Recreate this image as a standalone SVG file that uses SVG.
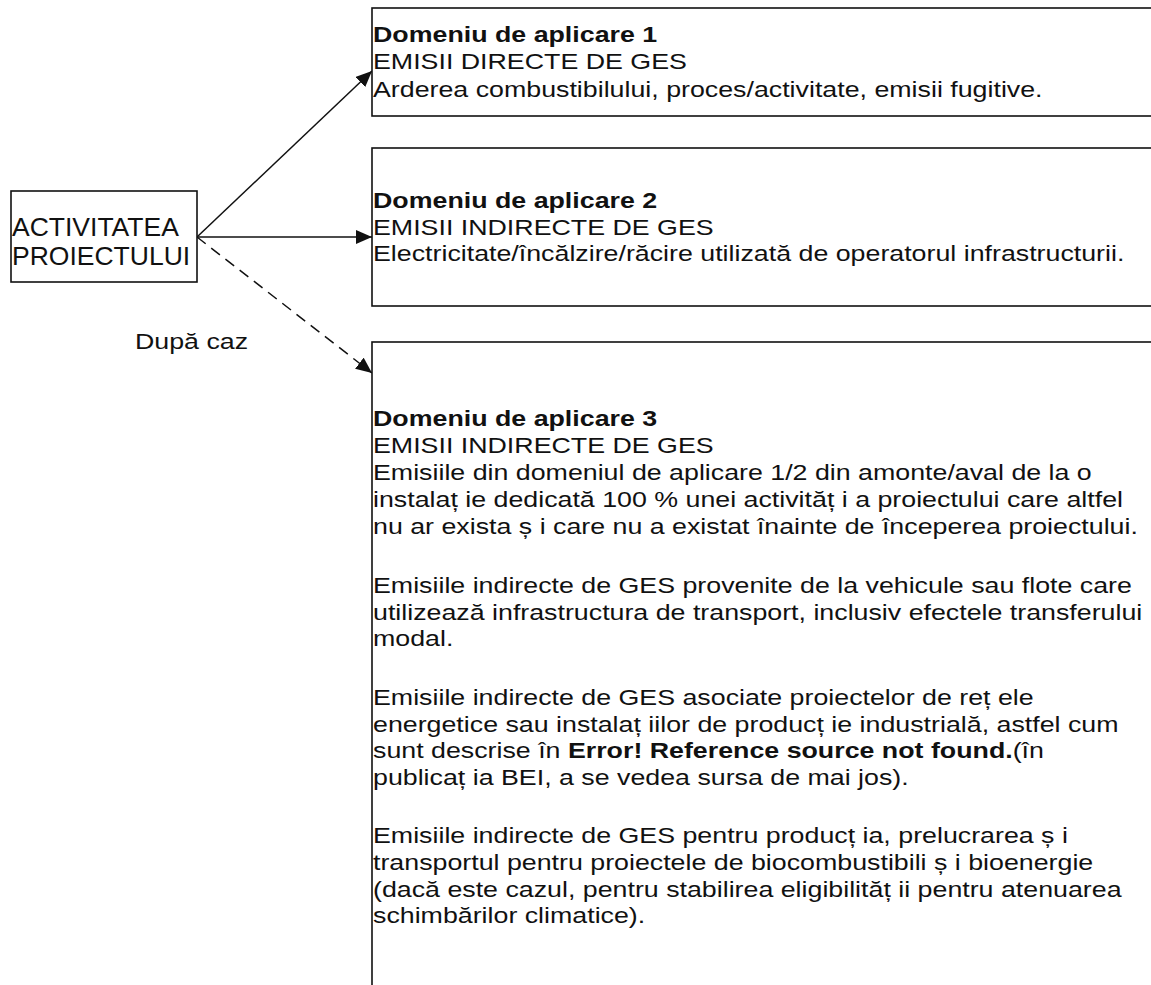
<svg xmlns="http://www.w3.org/2000/svg" width="1151" height="985" viewBox="0 0 1151 985">
<style>
.box{fill:#fff;stroke:#111;stroke-width:1.6}
.t{font-family:"Liberation Sans",Arial,sans-serif;font-size:22px;fill:#111}
.big{font-family:"Liberation Sans",Arial,sans-serif;font-size:26.5px;fill:#111}
.b{font-weight:bold}
.conn{stroke:#111;stroke-width:1.5;fill:none}
.dash{stroke-dasharray:11 7}
</style>
<defs>
<marker id="ah" markerUnits="userSpaceOnUse" markerWidth="16" markerHeight="14" refX="16" refY="7" orient="auto">
<path d="M0,0 L16,7 L0,14 z" fill="#111"/>
</marker>
</defs>
<rect width="1151" height="985" fill="#fff"/>
<g id="connectors">
<line class="conn" x1="197" y1="237" x2="372" y2="71" marker-end="url(#ah)"/>
<line class="conn" x1="197" y1="237" x2="372" y2="237" marker-end="url(#ah)"/>
<line class="conn dash" x1="197" y1="237" x2="372" y2="373" marker-end="url(#ah)"/>
<text class="t" transform="translate(135,349) scale(1.217,1)">După caz</text>
</g>
<g id="activitatea">
<rect class="box" x="11" y="191" width="186" height="91"/>
<text class="big" x="12" y="236">ACTIVITATEA</text>
<text class="big" x="12" y="265">PROIECTULUI</text>
</g>
<g id="domeniu1">
<rect class="box" x="372" y="8" width="800" height="108"/>
<text class="t" transform="translate(373,42) scale(1.217,1)"><tspan class="b" x="0" y="0">Domeniu de aplicare 1</tspan><tspan x="0" y="27.5">EMISII DIRECTE DE GES</tspan><tspan x="0" y="55">Arderea combustibilului, proces/activitate, emisii fugitive.</tspan></text>
</g>
<g id="domeniu2">
<rect class="box" x="372" y="148" width="800" height="158"/>
<text class="t" transform="translate(373,208) scale(1.217,1)"><tspan class="b" x="0" y="0">Domeniu de aplicare 2</tspan><tspan x="0" y="26.7">EMISII INDIRECTE DE GES</tspan><tspan x="0" y="53.4">Electricitate/încălzire/răcire utilizată de operatorul infrastructurii.</tspan></text>
</g>
<g id="domeniu3">
<rect class="box" x="372" y="342" width="800" height="700"/>
<text class="t" transform="translate(373,426) scale(1.217,1)"><tspan class="b" x="0" y="0">Domeniu de aplicare 3</tspan><tspan x="0" y="27">EMISII INDIRECTE DE GES</tspan><tspan x="0" y="54">Emisiile din domeniul de aplicare 1/2 din amonte/aval de la o</tspan><tspan x="0" y="81">instalaț ie dedicată 100 % unei activităț i a proiectului care altfel</tspan><tspan x="0" y="108">nu ar exista ș i care nu a existat înainte de începerea proiectului.</tspan><tspan x="0" y="167">Emisiile indirecte de GES provenite de la vehicule sau flote care</tspan><tspan x="0" y="194">utilizează infrastructura de transport, inclusiv efectele transferului</tspan><tspan x="0" y="220">modal.</tspan><tspan x="0" y="279">Emisiile indirecte de GES asociate proiectelor de reț ele</tspan><tspan x="0" y="306">energetice sau instalaț iilor de producț ie industrială, astfel cum</tspan><tspan x="0" y="332">sunt descrise în </tspan><tspan class="b">Error! Reference source not found.</tspan><tspan>(în</tspan><tspan x="0" y="359">publicaț ia BEI, a se vedea sursa de mai jos).</tspan><tspan x="0" y="417">Emisiile indirecte de GES pentru producț ia, prelucrarea ș i</tspan><tspan x="0" y="444">transportul pentru proiectele de biocombustibili ș i bioenergie</tspan><tspan x="0" y="471">(dacă este cazul, pentru stabilirea eligibilităț ii pentru atenuarea</tspan><tspan x="0" y="497">schimbărilor climatice).</tspan></text>
</g>
</svg>
